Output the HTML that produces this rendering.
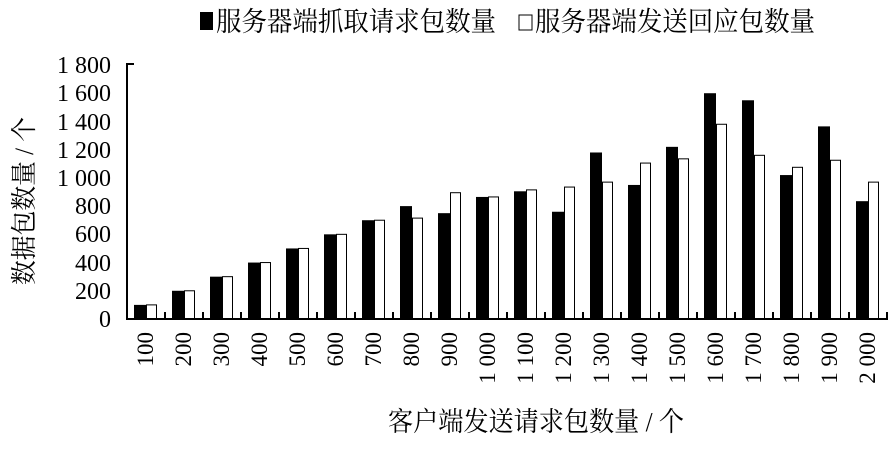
<!DOCTYPE html>
<html><head><meta charset="utf-8"><style>html,body{margin:0;padding:0;background:#fff}</style></head>
<body>
<svg width="894" height="445" xmlns="http://www.w3.org/2000/svg" font-family="Liberation Serif, Noto Serif CJK SC, serif">
<rect width="894" height="445" fill="#fff"/>
<rect x="200" y="12" width="13" height="18" fill="#000"/>
<text x="216" y="31" font-size="27" textLength="280" lengthAdjust="spacingAndGlyphs">服务器端抓取请求包数量</text>
<rect x="519" y="15" width="13" height="15" fill="#fff" stroke="#000" stroke-width="1"/>
<text x="535" y="31" font-size="27" textLength="280" lengthAdjust="spacingAndGlyphs">服务器端发送回应包数量</text>
<text transform="translate(33,201) rotate(-90)" font-size="26" text-anchor="middle" textLength="168" lengthAdjust="spacingAndGlyphs">数据包数量 / 个</text>
<g font-size="24" text-anchor="end">
<text x="111" y="327">0</text>
<text x="111" y="299">200</text>
<text x="111" y="271">400</text>
<text x="111" y="242">600</text>
<text x="111" y="214">800</text>
<text x="111" y="186">1 000</text>
<text x="111" y="158">1 200</text>
<text x="111" y="130">1 400</text>
<text x="111" y="101">1 600</text>
<text x="111" y="73">1 800</text>
</g>
<g id="bars"></g>
<line x1="127" y1="63" x2="127" y2="319.5" stroke="#000" stroke-width="2"/>
<line x1="126" y1="319" x2="888" y2="319" stroke="#000" stroke-width="2"/>
<line x1="127" y1="64" x2="134" y2="64" stroke="#000" stroke-width="2"/>
<g id="ticks" stroke="#000" stroke-width="2"></g>
<g id="xl" font-size="23" text-anchor="end"></g>
<text x="388" y="431" font-size="27" textLength="296" lengthAdjust="spacingAndGlyphs">客户端发送请求包数量 / 个</text>
</svg>
<script>
var b=[100,200,300,400,500,600,700,800,750,865,905,760,1180,950,1220,1600,1550,1020,1365,835];
var w=[100,200,300,400,500,600,700,715,895,865,915,935,970,1105,1135,1380,1160,1075,1125,970];
var s=254/1800,base=319,ns="http://www.w3.org/2000/svg";
var g=document.getElementById('bars'),t=document.getElementById('ticks'),xl=document.getElementById('xl');
function el(p,n,a){var e=document.createElementNS(ns,n);for(var k in a)e.setAttribute(k,a[k]);p.appendChild(e);return e;}
for(var i=0;i<20;i++){var x0=127+i*38;
var hb=b[i]*s,hw=w[i]*s;
el(g,'rect',{x:x0+7,y:base-hb,width:12,height:hb,fill:'#000'});
el(g,'rect',{x:x0+19.5,y:base-hw,width:10,height:hw,fill:'#fff',stroke:'#000','stroke-width':1});
el(t,'line',{x1:x0+38,y1:base,x2:x0+38,y2:base-7});
var v=(i+1)*100,lab=v>=1000?Math.floor(v/1000)+' '+String(v%1000).padStart(3,'0'):String(v);
var tx=el(xl,'text',{transform:'translate('+(x0+26)+',332) rotate(-90)'});tx.textContent=lab;}
</script>
</body></html>
